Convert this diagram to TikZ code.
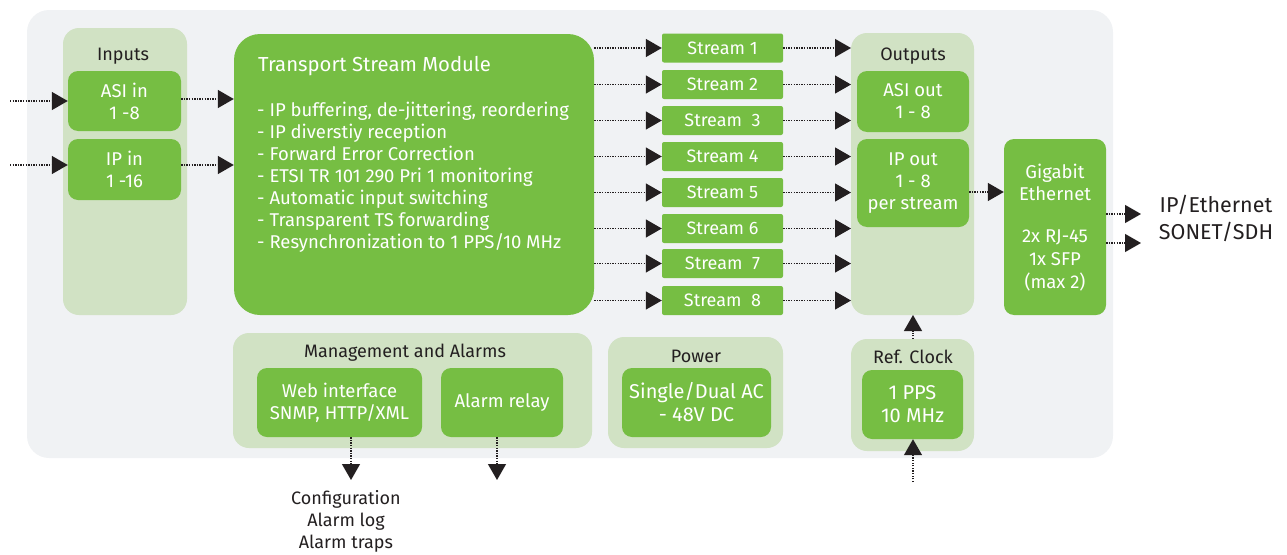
\documentclass[tikz,border=0pt]{standalone}
\usepackage{fontspec}
\setmainfont{Fira Sans}
\usetikzlibrary{arrows.meta}
\definecolor{bgray}{HTML}{F0F2F4}
\definecolor{pgreen}{HTML}{D1E2C4}
\definecolor{bgreen}{HTML}{76BE43}
\definecolor{ink}{HTML}{231F20}
\tikzset{
  panel/.style={fill=pgreen, draw=none, rounded corners=16pt},
  gbox/.style={fill=bgreen, draw=none, rounded corners=10pt, text=white,
    align=center, font=\fontsize{18.5}{22}\selectfont, inner sep=0pt},
  sbox/.style={fill=bgreen, draw=none, rounded corners=2pt, text=white,
    align=center, font=\fontsize{18}{20}\selectfont, inner sep=0pt,
    minimum width=121pt, minimum height=29pt},
  plabel/.style={text=ink, font=\fontsize{18}{20}\selectfont, inner sep=0pt,
    text height=13pt, text depth=0pt},
  wtext/.style={text=white, inner sep=0pt},
  flow/.style={draw=ink, line width=1.3pt, dash pattern=on 1.3pt off 1.3pt,
    -{Triangle[length=16pt,width=18pt]}},
}
\begin{document}
\begin{tikzpicture}[x=1pt,y=-1pt]
\useasboundingbox (0,0) rectangle (1287,554);
% device outline
\fill[bgray, rounded corners=22pt] (27,10) rectangle (1113,458);

% input column
\fill[panel] (63,28) rectangle (187,315);
\node[plabel] (inlab) at (123,54) {Inputs};
\node[gbox, minimum width=113pt, minimum height=60pt] (asiin) at (124.5,101) {ASI in\\1 -8};
\node[gbox, minimum width=113pt, minimum height=61pt] (ipin) at (124.5,169.5) {IP in\\1 -16};
\coordinate (asisrc) at (10,101);
\coordinate (ipsrc) at (10,165);
\draw[flow] (asisrc) -- (asiin.west |- asisrc);
\draw[flow] (ipsrc) -- (ipin.west |- ipsrc);

% transport stream module
\node[fill=bgreen, rounded corners=26pt, minimum width=360pt, minimum height=281pt, inner sep=0pt] (tsm) at (414,174.5) {};
\node[wtext, anchor=base west, font=\fontsize{20.3}{22}\selectfont] (tsmtitle) at (258,71) {Transport Stream Module};
\foreach \i/\t in {1/{IP buffering, de-jittering, reordering},
                   2/{IP diverstiy reception},
                   3/{Forward Error Correction},
                   4/{ETSI TR 101 290 Pri 1 monitoring},
                   5/{Automatic input switching},
                   6/{Transparent TS forwarding},
                   7/{Resynchronization to 1 PPS/10 MHz}}{
  \node[wtext, anchor=base west, font=\fontsize{18.5}{22}\selectfont] (tsml\i) at (257,{116+22*(\i-1)}) {- \t};
}
\draw[flow] (asiin.east |- 0,99) -- (tsm.west |- 0,99);
\draw[flow] (ipin.east |- 0,165) -- (tsm.west |- 0,165);

% output column
\fill[panel] (851,33) rectangle (974,315);
\node[plabel] (outlab) at (913,54) {Outputs};
\node[gbox, minimum width=112pt, minimum height=61pt] (asiout) at (913,101.5) {ASI out\\1 - 8};
\node[gbox, minimum width=112pt, minimum height=88pt] (ipout) at (913,183) {IP out\\1 - 8\\per stream};
\coordinate (outW) at (851,0);

% streams
\foreach \i/\y/\t in {1/48/Stream 1, 2/84.5/Stream 2, 3/120.5/Stream\ \ 3, 4/156.5/Stream 4,
                       5/192.5/Stream 5, 6/228.5/Stream 6, 7/263.5/Stream\ \ 7, 8/300.5/Stream\ \ 8}{
  \node[sbox] (s\i) at (722.5,\y) {\t};
  \draw[flow] (tsm.east |- s\i) -- (s\i.west);
  \draw[flow] (s\i.east) -- (outW |- s\i);
}

% gigabit ethernet
\node[gbox, minimum width=102pt, minimum height=176pt] (gbe) at (1055,227) {};
\node[wtext, align=center, font=\fontsize{18.5}{22}\selectfont] (gbetop) at (1055,182) {Gigabit\\Ethernet};
\node[wtext, align=center, font=\fontsize{18.5}{23}\selectfont] (gbebot) at (1055,260) {2x RJ-45\\1x SFP\\(max 2)};
\draw[flow] (ipout.east |- 0,192) -- (gbe.west |- 0,192);
\coordinate (net1) at (1141,214);
\coordinate (net2) at (1141,243);
\draw[flow] (gbe.east |- net1) -- (net1);
\draw[flow] (gbe.east |- net2) -- (net2);
\node[text=ink, align=center, font=\fontsize{21.5}{27}\selectfont, inner sep=0pt] (netlab) at (1216,218.5) {IP/Ethernet\\SONET/SDH};

% management and alarms
\fill[panel] (233,333) rectangle (592,448);
\node[plabel] (mglab) at (405,351) {Management and Alarms};
\node[gbox, minimum width=165pt, minimum height=69pt] (web) at (339.5,402.5) {Web interface\\SNMP, HTTP/XML};
\node[gbox, minimum width=122pt, minimum height=69pt] (relay) at (502,402.5) {Alarm relay};
\coordinate (webout) at (351,480);
\coordinate (relout) at (497,480);
\draw[flow] (web.south -| webout) -- (webout);
\draw[flow] (relay.south -| relout) -- (relout);
\node[text=ink, align=center, font=\fontsize{18}{22}\selectfont, inner sep=0pt] (mgout) at (346,521) {Configuration\\Alarm log\\Alarm traps};

% power
\fill[panel] (608,337) rectangle (783,448);
\node[plabel] (pwlab) at (696,356) {Power};
\node[gbox, minimum width=149pt, minimum height=69pt, font=\fontsize{20}{23}\selectfont] (pw) at (696.5,402.5) {Single/Dual AC\\- 48V DC};

% reference clock
\fill[panel] (851,339) rectangle (974,451);
\node[plabel] (rclab) at (913,357) {Ref. Clock};
\node[gbox, minimum width=101pt, minimum height=69pt, font=\fontsize{20}{23}\selectfont] (rc) at (912.5,404.5) {1 PPS\\10 MHz};
\coordinate (rcpanel) at (913,339);
\coordinate (outbot) at (913,315);
\coordinate (clkin) at (913,482);
\draw[flow] (rcpanel) -- (outbot);
\draw[flow] (clkin) -- (rc.south -| clkin);
\end{tikzpicture}
\end{document}
